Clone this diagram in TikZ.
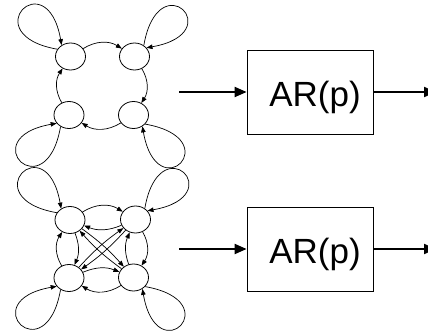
\documentclass[tikz,border=0pt]{standalone}
\usepackage{fontspec}
\setmainfont{Liberation Sans}
\usetikzlibrary{shapes.geometric,arrows.meta,calc}
\begin{document}
\begin{tikzpicture}[x=1pt,y=1pt,
  st/.style={draw, ellipse, minimum width=30pt, minimum height=27pt, inner sep=0pt, line width=0.8pt},
  ed/.style={-{Triangle[length=6pt,width=4.5pt]}, line width=0.7pt},
  arbox/.style={draw, line width=0.8pt, minimum width=126pt, minimum height=84pt, inner sep=0pt},
  lbl/.style={font=\fontsize{35}{35}\selectfont, inner sep=0pt, anchor=base},
  bigarrow/.style={-{Triangle[length=12pt,width=10pt]}, line width=2pt}
]
\useasboundingbox (0,0) rectangle (428,332);
% top graph
\node[st] (A1) at (70.5,275.5) {};
\node[st] (B1) at (134.5,275.5) {};
\node[st] (C1) at (69,217) {};
\node[st] (D1) at (133.5,217) {};
% bottom graph
\node[st] (A2) at (70,112) {};
\node[st] (B2) at (135.5,112.5) {};
\node[st] (C2) at (69,54) {};
\node[st] (D2) at (133.5,54.5) {};
% loops top
\draw[ed] (A1.151) .. controls +(170:85) and +(100:85) .. (A1.128);
\draw[ed] (B1.50) .. controls +(80:85) and +(10:85) .. (B1.36);
\draw[ed] (D1.-38) .. controls +(-10:85) and +(-80:85) .. (D1.-52);
\draw[ed] (C1.234) .. controls +(260:85) and +(190:85) .. (C1.214);
% loops bottom
\draw[ed] (A2.151) .. controls +(170:85) and +(100:85) .. (A2.128);
\draw[ed] (B2.50) .. controls +(80:85) and +(10:85) .. (B2.36);
\draw[ed] (D2.-38) .. controls +(-10:85) and +(-80:85) .. (D2.-52);
\draw[ed] (C2.234) .. controls +(260:85) and +(190:85) .. (C2.214);
% top cycle
\draw[ed] (A1) to[bend left=32] (B1);
\draw[ed] (B1) to[bend left=32] (D1);
\draw[ed] (D1) to[bend left=32] (C1);
\draw[ed] (C1) to[bend left=32] (A1);
% bottom outer
\draw[ed] (A2) to[bend left=32] (B2);
\draw[ed] (B2) to[bend left=32] (D2);
\draw[ed] (D2) to[bend left=32] (C2);
\draw[ed] (C2) to[bend left=32] (A2);
% bottom inner
\draw[ed] (B2) to[bend left=22] (A2);
\draw[ed] (D2) to[bend left=22] (B2);
\draw[ed] (C2) to[bend left=22] (D2);
\draw[ed] (A2) to[bend left=22] (C2);
% diagonals
\draw[ed] (A2) to[bend left=6] (D2);
\draw[ed] (D2) to[bend left=6] (A2);
\draw[ed] (B2) to[bend left=6] (C2);
\draw[ed] (C2) to[bend left=6] (B2);
% AR boxes
\node[arbox] (ar1) at (310,240) {};
\node[arbox] (ar2) at (310,83) {};
\node[lbl] (t1) at (315,225.3) {AR(p)};
\node[lbl] (t2) at (315,68) {AR(p)};
\coordinate (i1) at (179,240);
\coordinate (o1) at (436,240);
\coordinate (i2) at (179,83);
\coordinate (o2) at (436,83);
\draw[bigarrow] (i1) -- (ar1.west);
\draw[bigarrow] (ar1.east) -- (o1);
\draw[bigarrow] (i2) -- (ar2.west);
\draw[bigarrow] (ar2.east) -- (o2);
\end{tikzpicture}
\end{document}
